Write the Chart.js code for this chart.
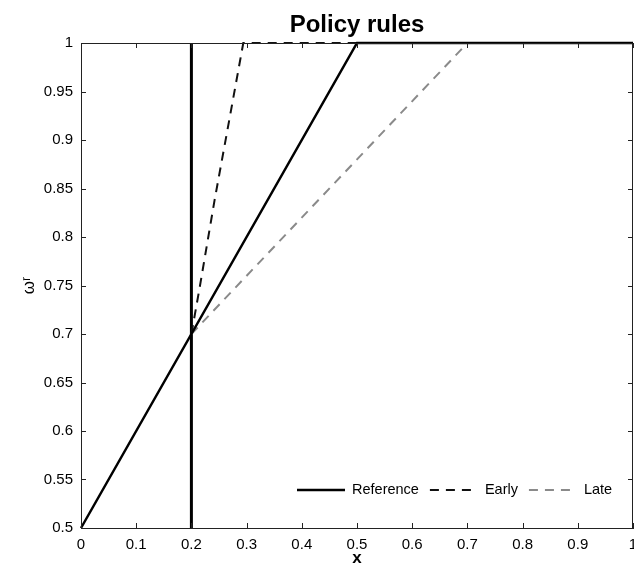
<!DOCTYPE html>
<html lang="en">
<head>
    <meta charset="UTF-8">
    <title>Policy rules</title>
    <script src="https://cdn.jsdelivr.net/npm/chart.js@4/dist/chart.umd.min.js"></script>
    <style>
        html, body { margin: 0; padding: 0; background: #fff; }
        #wrap { width: 634px; height: 571px; }
    </style>
</head>
<body>
    <div id="wrap"><canvas id="chart1"></canvas></div>
    <script>
        // policy rule curves
        const refX = [0, 0.5, 1];
        const refY = [0.5, 1, 1];
        const earlyX = [0.2, 0.215, 0.242, 0.27, 0.294, 1];
        const earlyY = [0.7, 0.748, 0.838, 0.925, 1, 1];
        const lateX = [0.2, 0.7, 1];
        const lateY = [0.7, 1, 1];
        const cutX = [0.2, 0.2];
        const cutY = [0.5, 1];

        const xTicks = [0, 0.1, 0.2, 0.3, 0.4, 0.5, 0.6, 0.7, 0.8, 0.9, 1];
        const yTicks = [0.5, 0.55, 0.6, 0.65, 0.7, 0.75, 0.8, 0.85, 0.9, 0.95, 1];
        const title = "Policy rules";

        const pts = (xs, ys) => xs.map((x, i) => ({x: x, y: ys[i]}));
        const FONT = "'Liberation Sans', Arial, sans-serif";

        // box + inward ticks + legend + title over the plot, matlab style
        const frame = {
            id: 'frame',
            afterDraw(chart) {
                const ctx = chart.ctx;
                const a = chart.chartArea;
                const sx = chart.scales.x, sy = chart.scales.y;
                ctx.save();
                ctx.strokeStyle = '#222';
                ctx.lineWidth = 1;
                ctx.strokeRect(a.left + 0.5, a.top + 0.5, a.right - a.left - 1, a.bottom - a.top);
                ctx.beginPath();
                xTicks.forEach(v => {
                    const p = Math.round(sx.getPixelForValue(v)) + 0.5;
                    ctx.moveTo(p, a.bottom); ctx.lineTo(p, a.bottom - 5);
                    ctx.moveTo(p, a.top); ctx.lineTo(p, a.top + 5);
                });
                yTicks.forEach(v => {
                    const p = Math.round(sy.getPixelForValue(v)) + 0.5;
                    ctx.moveTo(a.left, p); ctx.lineTo(a.left + 5, p);
                    ctx.moveTo(a.right, p); ctx.lineTo(a.right - 5, p);
                });
                ctx.stroke();

                // title centred on the axes
                ctx.fillStyle = '#000';
                ctx.font = 'bold 24px ' + FONT;
                ctx.textAlign = 'center';
                ctx.textBaseline = 'middle';
                ctx.fillText(title, (a.left + a.right) / 2, a.top - 18);

                // legend
                ctx.font = '14.5px ' + FONT;
                ctx.textAlign = 'left';
                let x = a.left + 216;
                const y = a.bottom - 38;
                chart.data.datasets.filter(d => d.label).forEach(d => {
                    ctx.beginPath();
                    ctx.strokeStyle = d.borderColor;
                    ctx.lineWidth = d.borderWidth;
                    ctx.setLineDash(d.borderDash || []);
                    ctx.moveTo(x, y); ctx.lineTo(x + 48, y);
                    ctx.stroke();
                    ctx.setLineDash([]);
                    ctx.fillText(d.label, x + 55, y);
                    x += 55 + ctx.measureText(d.label).width + 11;
                });
                ctx.restore();
            }
        };

        new Chart("chart1", {
            type: "scatter",
            data: {
                datasets: [{
                    label: "Reference",
                    data: pts(refX, refY),
                    showLine: true,
                    clip: 4,
                    borderColor: "#000",
                    borderWidth: 2.5,
                    pointRadius: 0
                }, {
                    label: "Early",
                    data: pts(earlyX, earlyY),
                    showLine: true,
                    clip: 4,
                    borderColor: "#111",
                    borderWidth: 2,
                    borderDash: [9, 7],
                    pointRadius: 0
                }, {
                    label: "Late",
                    data: pts(lateX, lateY),
                    showLine: true,
                    clip: 4,
                    borderColor: "#8a8a8a",
                    borderWidth: 2,
                    borderDash: [9, 7],
                    pointRadius: 0
                }, {
                    label: "",
                    data: pts(cutX, cutY),
                    showLine: true,
                    clip: 4,
                    borderColor: "#000",
                    borderWidth: 3,
                    pointRadius: 0
                }]
            },
            options: {
                responsive: true,
                maintainAspectRatio: false,
                animation: false,
                layout: { padding: { left: 0, right: 1, top: 43, bottom: 0 } },
                plugins: {
                    legend: { display: false },
                    tooltip: { enabled: false }
                },
                scales: {
                    x: {
                        type: "linear",
                        min: 0,
                        max: 1,
                        afterBuildTicks: s => { s.ticks = xTicks.map(v => ({value: v})); },
                        afterFit: s => { s.height = 43; s.paddingRight = 0; },
                        grid: { display: false },
                        border: { display: true, color: "#222" },
                        ticks: {
                            color: "#000",
                            padding: 0,
                            maxRotation: 0,
                            font: { family: FONT, size: 15 },
                            callback: v => String(Number(v.toFixed(2)))
                        },
                        title: {
                            display: true,
                            text: "x",
                            color: "#000",
                            font: { family: FONT, size: 17, weight: "bold" },
                            padding: { top: 0, bottom: 2 }
                        }
                    },
                    y: {
                        type: "linear",
                        min: 0.5,
                        max: 1,
                        afterBuildTicks: s => { s.ticks = yTicks.map(v => ({value: v})); },
                        afterFit: s => { s.width = 81; },
                        grid: { display: false },
                        border: { display: true, color: "#222" },
                        ticks: {
                            color: "#000",
                            padding: 0,
                            font: { family: FONT, size: 15 },
                            callback: v => String(Number(v.toFixed(2)))
                        },
                        title: {
                            display: true,
                            text: "ωʳ",
                            color: "#000",
                            font: { family: FONT, size: 17 },
                            padding: { top: 19, bottom: 0 }
                        }
                    }
                }
            },
            plugins: [frame]
        });
    </script>
</body>
</html>
